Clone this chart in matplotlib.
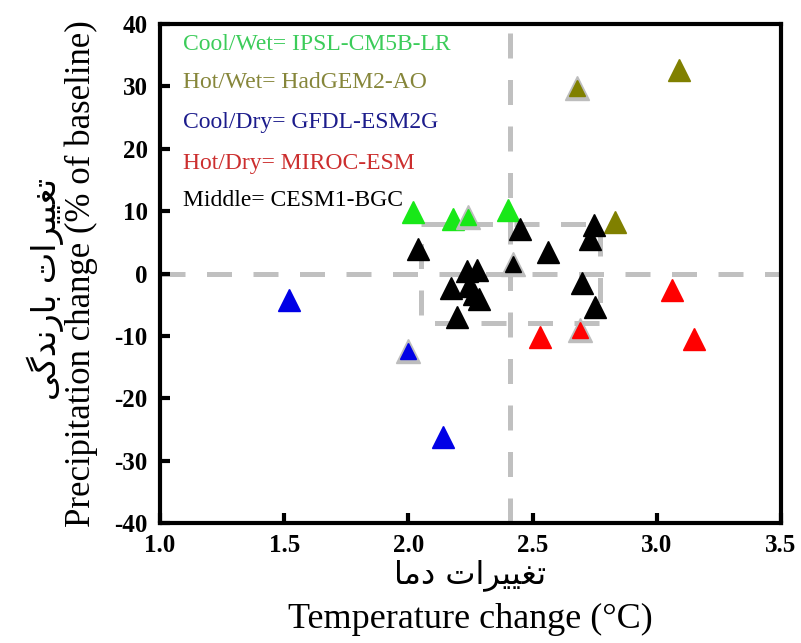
import matplotlib
matplotlib.use('Agg')
import matplotlib.pyplot as plt

# ---- data ----
green_x = [2.02, 2.18, 2.40]
green_y = [9.9, 8.8, 10.1]
olive_x = [2.83, 3.09]
olive_y = [8.3, 32.7]
blue_x = [1.52, 2.14]
blue_y = [-4.3, -26.2]
red_x = [3.06, 3.15, 2.53]
red_y = [-2.6, -10.5, -10.2]
black_x = [2.45, 2.04, 2.56, 2.745, 2.73, 2.70, 2.75, 2.237, 2.275, 2.17, 2.245, 2.265, 2.285, 2.194]
black_y = [7.1, 4.0, 3.4, 7.8, 5.5, -1.6, -5.3, 0.4, 0.5, -2.4, -2.0, -3.3, -4.1, -6.9]

# selected models (grey outline)
sel_x = [2.24, 2.68, 2.00, 2.69, 2.42]
sel_y = [9.0, 29.7, -12.5, -9.0, 1.6]
sel_colors = ['#18e818', '#808000', '#0000e6', '#ff0000', '#000000']

# dashed reference lines
x_mean = 2.41
box_x = [2.05, 2.77]
box_y = [-8, 8]

labels = ['Cool/Wet= IPSL-CM5B-LR', 'Hot/Wet= HadGEM2-AO', 'Cool/Dry= GFDL-ESM2G',
          'Hot/Dry= MIROC-ESM', 'Middle= CESM1-BGC']
label_colors = ['#3ccc5a', '#86863a', '#1c1c8c', '#cc2e2e', '#000000']

# Persian axis titles
fa_x = 'تغییرات دما'
fa_y = 'تغییرات بارندگی'

# presentation forms: isolated, final, initial, medial
FORMS = {
    'ت': (0xFE95, 0xFE96, 0xFE97, 0xFE98),
    'غ': (0xFECD, 0xFECE, 0xFECF, 0xFED0),
    'ی': (0xFEEF, 0xFEF0, 0xFEF3, 0xFEF4),
    'ر': (0xFEAD, 0xFEAE, None, None),
    'ا': (0xFE8D, 0xFE8E, None, None),
    'ب': (0xFE8F, 0xFE90, 0xFE91, 0xFE92),
    'ن': (0xFEE5, 0xFEE6, 0xFEE7, 0xFEE8),
    'د': (0xFEA9, 0xFEAA, None, None),
    'گ': (0xFB92, 0xFB93, 0xFB94, 0xFB95),
    'م': (0xFEE1, 0xFEE2, 0xFEE3, 0xFEE4),
}


def shape(s):
    # crude arabic shaping + reverse, matplotlib draws left to right
    out = []
    for i, ch in enumerate(s):
        if ch not in FORMS:
            out.append(ch)
            continue
        prev = s[i - 1] if i > 0 else ' '
        nxt = s[i + 1] if i < len(s) - 1 else ' '
        p = prev in FORMS and FORMS[prev][2] is not None
        n = nxt in FORMS and FORMS[ch][2] is not None
        f = FORMS[ch]
        if p and n:
            out.append(chr(f[3]))
        elif p:
            out.append(chr(f[1]))
        elif n:
            out.append(chr(f[2]))
        else:
            out.append(chr(f[0]))
    return ''.join(out[::-1])


plt.rcParams['font.family'] = ['Liberation Serif', 'DejaVu Sans']
plt.rcParams['axes.linewidth'] = 3
plt.rcParams['axes.unicode_minus'] = False

fig = plt.figure(figsize=(8.01, 6.43), dpi=100)
ax = fig.add_axes([0.1998, 0.1866, 0.7753, 0.7761])

dash = dict(color='#c0c0c0', lw=3.6, dashes=(5, 4.3), zorder=1)
ax.plot([1.0, 3.5], [0, 0], **dash)
ax.plot([x_mean, x_mean], [-40, 40], **dash)
ax.plot([box_x[0], box_x[1], box_x[1], box_x[0], box_x[0]],
        [box_y[1], box_y[1], box_y[0], box_y[0], box_y[1]], **dash)

ms = 16
ax.plot(green_x, green_y, '^', ms=ms, color='#18e818', mec='#18e818', zorder=3)
ax.plot(olive_x, olive_y, '^', ms=ms, color='#808000', mec='#808000', zorder=3)
ax.plot(blue_x, blue_y, '^', ms=ms, color='#0000e6', mec='#0000e6', zorder=3)
ax.plot(red_x, red_y, '^', ms=ms, color='#ff0000', mec='#ff0000', zorder=3)
ax.plot(black_x, black_y, '^', ms=ms, color='black', mec='black', zorder=3)
ax.plot(sel_x, sel_y, '^', ms=17.5, color='#bdbdbd', mec='#bdbdbd', zorder=3)
for x, y, c in zip(sel_x, sel_y, sel_colors):
    ax.plot(x, y, '^', ms=11, color=c, mec=c, zorder=4)

ax.set_xlim(1.0, 3.5)
ax.set_ylim(-40, 40)
ax.set_xticks([1.0, 1.5, 2.0, 2.5, 3.0, 3.5])
ax.set_yticks(range(-40, 41, 10))
ax.set_xticklabels(['1.0', '1.5', '2.0', '2.5', '3.0', '3.5'])
ax.tick_params(direction='in', length=7, width=3, labelsize=18, top=False, right=False)
ax.tick_params(axis='y', pad=9)
ax.tick_params(axis='x', pad=8)
for t in ax.get_xticklabels() + ax.get_yticklabels():
    t.set_fontweight('bold')

ypos = [0.958, 0.882, 0.802, 0.721, 0.647]
for lab, c, yy in zip(labels, label_colors, ypos):
    ax.text(0.037, yy, lab, color=c, fontsize=17, va='center', ha='left', transform=ax.transAxes)

fig.text(0.587, 0.1058, shape(fa_x), fontsize=23, ha='center', va='center', family='DejaVu Sans')
fig.text(0.587, 0.0358, 'Temperature change (°C)', fontsize=26, ha='center', va='center')
fig.text(0.056, 0.55, shape(fa_y), fontsize=24, ha='center', va='center', rotation=90, family='DejaVu Sans')
fig.text(0.102, 0.575, 'Precipitation change (% of baseline)', fontsize=25, ha='center', va='center', rotation=90)

fig.savefig('out.png', dpi=100)
